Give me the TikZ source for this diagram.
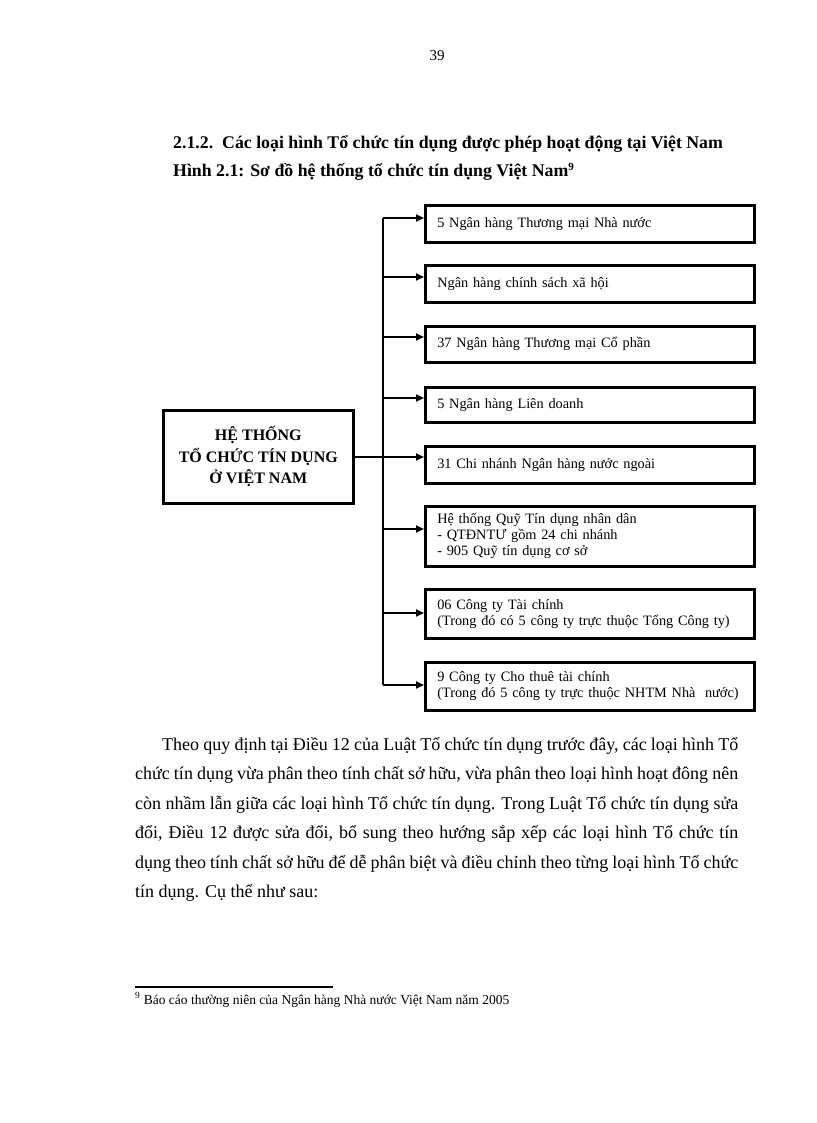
\documentclass[tikz,border=0pt]{standalone}
\usepackage{fontspec}
\setmainfont{Liberation Serif}
\usetikzlibrary{arrows.meta}
\begin{document}
\begin{tikzpicture}[x=1pt,y=-1pt,
  catbox/.style={draw,line width=2.6pt,minimum width=329pt,text width=305pt,align=left,inner xsep=12pt,inner ysep=0pt,anchor=north west,font=\fontsize{14.3}{16}\selectfont},
  mainbox/.style={draw,line width=2.6pt,minimum width=190pt,minimum height=93pt,align=center,anchor=north west,font=\fontsize{16}{21.5}\selectfont\bfseries},
  conn/.style={line width=1.8pt},
  arr/.style={conn,-{Triangle[length=8pt,width=7pt]}},
  bodyline/.style={anchor=base west,inner sep=0pt,font=\fontsize{18}{20}\selectfont},
  headline/.style={anchor=base west,inner sep=0pt,font=\fontsize{17.8}{20}\selectfont\bfseries}
]
\useasboundingbox (0,0) rectangle (816,1123);

% page number
\node[anchor=base,inner sep=0pt,font=\fontsize{15}{18}\selectfont] (pg) at (437,61) {39};

% headings
\node[headline] (h1) at (173,149) {2.1.2.\ \ Các loại hình Tổ chức tín dụng được phép hoạt động tại Việt Nam};
\node[headline] (h2) at (173,177) {Hình 2.1: Sơ đồ hệ thống tổ chức tín dụng Việt Nam\textsuperscript{\fontsize{11}{12}\selectfont 9}};

% main box
\node[mainbox] (main) at (162,409) {HỆ THỐNG\\TỔ CHỨC TÍN DỤNG\\Ở VIỆT NAM};

% category boxes
\node[catbox,minimum height=37pt] (b1) at (424,204) {5 Ngân hàng Thương mại Nhà nước};
\node[catbox,minimum height=37pt] (b2) at (424,264) {Ngân hàng chính sách xã hội};
\node[catbox,minimum height=36pt] (b3) at (424,325) {37 Ngân hàng Thương mại Cổ phần};
\node[catbox,minimum height=35pt] (b4) at (424,386) {5 Ngân hàng Liên doanh};
\node[catbox,minimum height=37pt] (b5) at (424,445) {31 Chi nhánh Ngân hàng nước ngoài};
\node[catbox,minimum height=60pt] (b6) at (424,505) {Hệ thống Quỹ Tín dụng nhân dân\\- QTĐNTƯ gồm 24 chi nhánh\\- 905 Quỹ tín dụng cơ sở};
\node[catbox,minimum height=49pt] (b7) at (424,588) {06 Công ty Tài chính\\(Trong đó có 5 công ty trực thuộc Tổng Công ty)};
\node[catbox,minimum height=48pt] (b8) at (424,661) {9 Công ty Cho thuê tài chính\\(Trong đó 5 công ty trực thuộc NHTM Nhà\ \ nước)};

% trunk coordinates
\coordinate (t1) at (383,218);
\coordinate (t2) at (383,277);
\coordinate (t3) at (383,337);
\coordinate (t4) at (383,398);
\coordinate (t5) at (383,457);
\coordinate (t6) at (383,529);
\coordinate (t7) at (383,613);
\coordinate (t8) at (383,685);

\draw[conn] (t1) -- (t8);
\draw[conn] (main.east) -- (main.east -| t1);
\foreach \i in {1,...,8}{
  \draw[arr] (t\i) -- (t\i -| b\i.west);
}

% body paragraph
\node[bodyline] (p1) at (162,750) {\makebox[576pt][s]{Theo quy định tại Điều 12 của Luật Tổ chức tín dụng trước đây, các loại hình Tổ}};
\node[bodyline] (p2) at (135,779.5) {\makebox[603pt][s]{chức tín dụng vừa phân theo tính chất sở hữu, vừa phân theo loại hình hoạt đông nên}};
\node[bodyline] (p3) at (135,809) {\makebox[603pt][s]{còn nhầm lẫn giữa các loại hình Tổ chức tín dụng. Trong Luật Tổ chức tín dụng sửa}};
\node[bodyline] (p4) at (135,838.5) {\makebox[603pt][s]{đổi, Điều 12 được sửa đổi, bổ sung theo hướng sắp xếp các loại hình Tổ chức tín}};
\node[bodyline] (p5) at (135,868) {\makebox[603pt][s]{dụng theo tính chất sở hữu để dễ phân biệt và điều chỉnh theo từng loại hình Tổ chức}};
\node[bodyline] (p6) at (135,897.5) {tín dụng. Cụ thể như sau:};

% footnote
\coordinate (fa) at (135,987);
\coordinate (fb) at (333,987);
\draw[line width=1.8pt] (fa) -- (fb);
\node[anchor=base west,inner sep=0pt,font=\fontsize{13.5}{15}\selectfont] (fn) at (135,1004) {\textsuperscript{9} Báo cáo thường niên của Ngân hàng Nhà nước Việt Nam năm 2005};
\end{tikzpicture}
\end{document}
